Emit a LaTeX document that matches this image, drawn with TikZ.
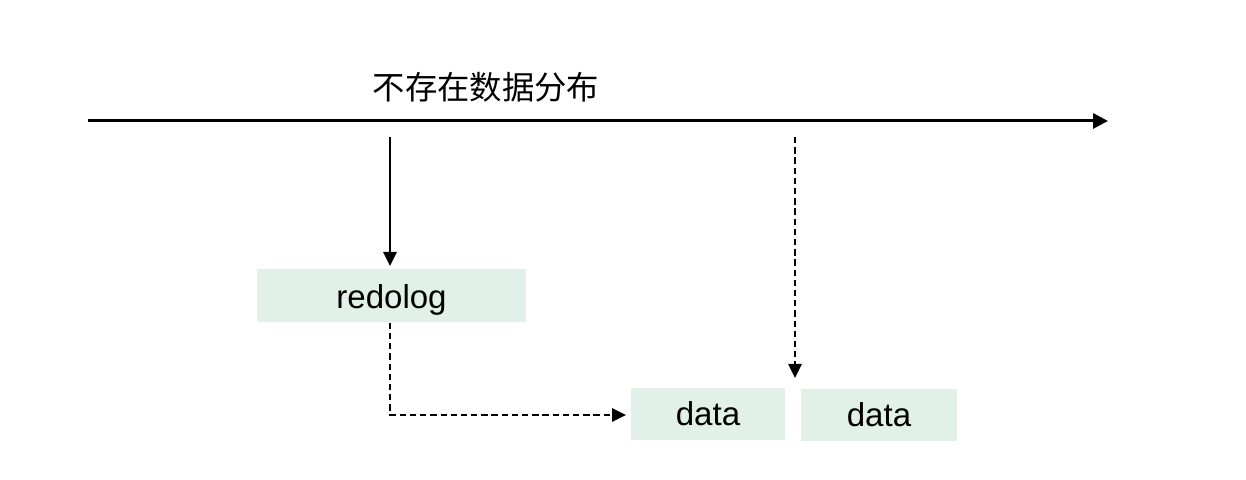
\documentclass[tikz,border=0pt]{standalone}
\usepackage{fontspec}
\setmainfont{Liberation Sans}
\newfontfamily\cjk{Noto Sans CJK SC}
\usetikzlibrary{arrows.meta}
\definecolor{boxfill}{HTML}{E2F0EA}
\begin{document}
\begin{tikzpicture}[x=0.01cm,y=-0.01cm,
  databox/.style={fill=boxfill,draw=none,inner sep=0pt,font=\fontsize{9.4pt}{11pt}\selectfont},
  solidarrow/.style={line width=0.75pt,-{Triangle[length=0.14cm,width=0.13cm]}},
  dasharrow/.style={line width=0.75pt,dash pattern=on 1.8pt off 1.1pt,-{Triangle[length=0.14cm,width=0.13cm]}}]
\useasboundingbox (0,0) rectangle (1246,480);
\coordinate (tl0) at (88,121);
\coordinate (tl1) at (1108,121);
\draw[line width=0.85pt,-{Triangle[length=0.15cm,width=0.15cm]}] (tl0) -- (tl1);
\node[font=\cjk\fontsize{9.2pt}{11pt}\selectfont] (title) at (486,87) {不存在数据分布};
\node[databox,minimum width=2.69cm,minimum height=0.53cm,text depth=0pt] (redo) at (391.5,295.5) {\raisebox{-0.6pt}{redolog}};
\node[databox,minimum width=1.54cm,minimum height=0.52cm] (d1) at (708,414) {data};
\node[databox,minimum width=1.56cm,minimum height=0.52cm] (d2) at (879,415) {data};
\coordinate (s0) at (390,137);
\coordinate (s1) at (390,266);
\draw[solidarrow] (s0) -- (s1);
\coordinate (v0) at (795,137);
\coordinate (v1) at (795,378);
\draw[dasharrow] (v0) -- (v1);
\coordinate (h1) at (626,415);
\draw[dasharrow] (redo.south -| s0) |- (h1);
\end{tikzpicture}
\end{document}
